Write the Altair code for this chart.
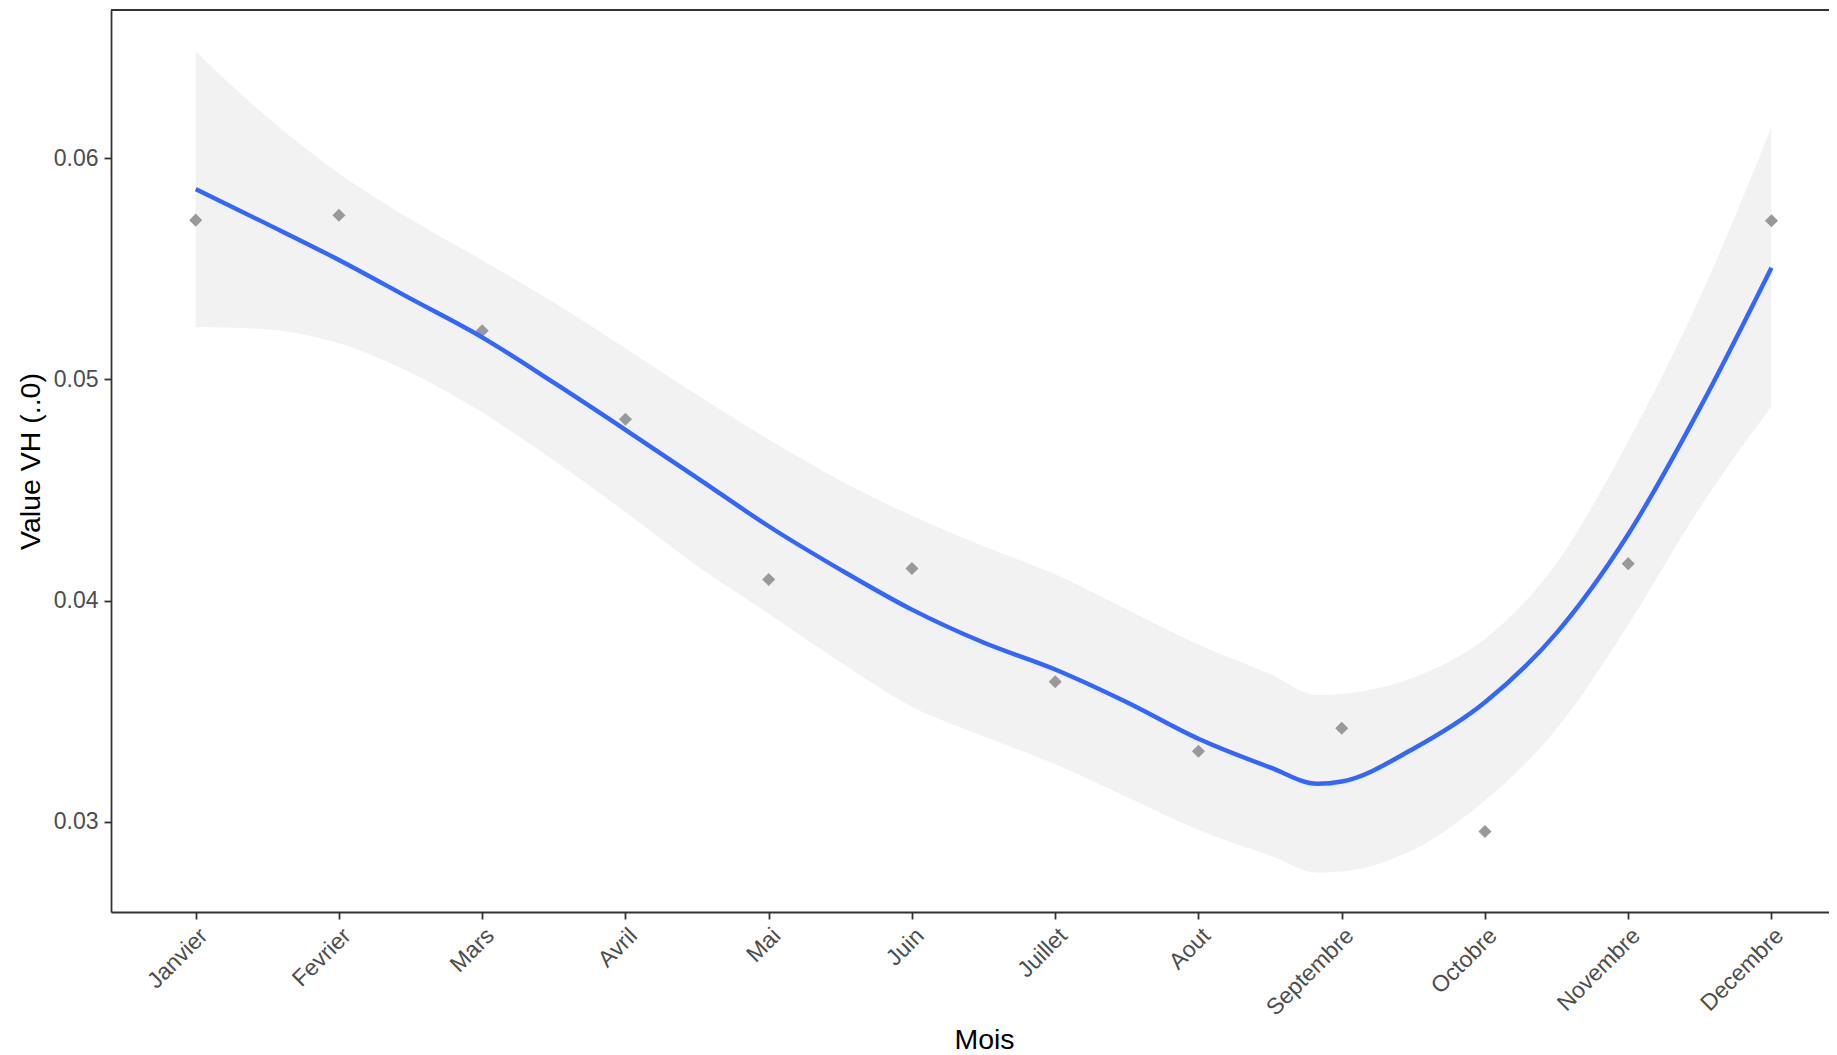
import json
import altair as alt
import pandas as pd

# ---- data ----
months = ["Janvier", "Fevrier", "Mars", "Avril", "Mai", "Juin", "Juillet",
          "Aout", "Septembre", "Octobre", "Novembre", "Decembre"]
month_index = [1, 2, 3, 4, 5, 6, 7, 8, 9, 10, 11, 12]
vh_values = [0.05720, 0.05742, 0.05220, 0.04820, 0.04095, 0.04145, 0.03633,
             0.03319, 0.03423, 0.02956, 0.04167, 0.05717]

# loess smooth (at these month positions)
smooth_pos = [1, 1.5, 2, 2.5, 3, 3.5, 4, 4.5, 5, 5.5, 6, 6.5, 7, 7.5, 8, 8.5,
              8.83, 9, 9.5, 10, 10.5, 11, 11.5, 12]
smooth_fit = [0.05860, 0.05702, 0.05540, 0.05365, 0.05190, 0.04985, 0.04772,
              0.04555, 0.04336, 0.04140, 0.03959, 0.03810, 0.03688, 0.03540,
              0.03375, 0.03246, 0.03172, 0.03182, 0.03330, 0.03540, 0.03854,
              0.04300, 0.04870, 0.05505]
smooth_upper = [0.06482, 0.06185, 0.05931, 0.05724, 0.05539, 0.05348, 0.05141,
                0.04930, 0.04728, 0.04543, 0.04384, 0.04246, 0.04119, 0.03960,
                0.03801, 0.03668, 0.03573, 0.03578, 0.03652, 0.03827, 0.04170,
                0.04720, 0.05370, 0.06140]
smooth_lower = [0.05237, 0.05226, 0.05163, 0.05030, 0.04850, 0.04633, 0.04400,
                0.04156, 0.03940, 0.03721, 0.03520, 0.03387, 0.03260, 0.03112,
                0.02963, 0.02847, 0.02770, 0.02775, 0.02873, 0.03096, 0.03420,
                0.03890, 0.04420, 0.04877]

y_ticks = [0.03, 0.04, 0.05, 0.06]

points_df = pd.DataFrame({"m": month_index, "v": vh_values})
smooth_df = pd.DataFrame({"m": smooth_pos, "fit": smooth_fit,
                          "lo": smooth_lower, "hi": smooth_upper})

# ---- layout ----
W, H = 1718, 902
FONT = "Liberation Sans"
AX = "#333333"
TXT = "#4D4D4D"

label_expr = json.dumps(months) + "[datum.value - 1]"

x_scale = alt.Scale(domain=[0.4087, 12.4016], nice=False, zero=False)
y_scale = alt.Scale(domain=[0.02592, 0.06670], nice=False, zero=False)

x_axis = alt.Axis(values=month_index, labelExpr=label_expr, grid=False,
                  labelAngle=-45, labelAlign="right", labelBaseline="top",
                  labelFontSize=23, labelColor=TXT, labelFont=FONT,
                  labelPadding=5, labelOffset=0,
                  tickSize=7, tickColor=AX, tickWidth=1.8,
                  domainColor=AX, domainWidth=1.8,
                  title="Mois", titleFontSize=28.5, titleFont=FONT,
                  titleColor="#000000", titleFontWeight="normal",
                  titleX=873, titleY=136, titleAlign="center",
                  titleBaseline="alphabetic")
y_axis = alt.Axis(values=y_ticks, format=".2f", grid=False,
                  labelFontSize=23, labelColor=TXT, labelFont=FONT,
                  labelPadding=6,
                  tickSize=7, tickColor=AX, tickWidth=1.8,
                  domainColor=AX, domainWidth=1.8,
                  title="Value VH (..0)", titleFontSize=28.5, titleFont=FONT,
                  titleColor="#000000", titleFontWeight="normal",
                  titleX=-81, titleY=H / 2, titleAngle=-90,
                  titleAlign="center", titleBaseline="middle")

ribbon = alt.Chart(smooth_df).mark_area(color="#F2F2F2", opacity=1,
                                        interpolate="monotone").encode(
    x=alt.X("m:Q", scale=x_scale, axis=x_axis),
    y=alt.Y("lo:Q", scale=y_scale, axis=y_axis),
    y2="hi:Q",
)

points = alt.Chart(points_df).mark_point(shape="diamond", filled=True,
                                         color="#999999", size=170,
                                         opacity=1).encode(
    x=alt.X("m:Q", scale=x_scale, axis=x_axis),
    y=alt.Y("v:Q", scale=y_scale, axis=y_axis),
)

line = alt.Chart(smooth_df).mark_line(color="#3366FF", strokeWidth=4.4,
                                      interpolate="monotone").encode(
    x=alt.X("m:Q", scale=x_scale, axis=x_axis),
    y=alt.Y("fit:Q", scale=y_scale, axis=y_axis),
)

top_border = alt.Chart(points_df).mark_rule(color=AX, strokeWidth=1.8).encode(
    x=alt.value(0), x2=alt.value(W), y=alt.value(0)
)

chart = alt.layer(ribbon, points, line, top_border).properties(
    width=W, height=H,
    autosize=alt.AutoSizeParams(type="none"),
    padding={"left": 103, "top": 2, "right": 0, "bottom": 142},
    background="white",
).configure_view(stroke=None)

chart.save("out.html", embed_options={"renderer": "svg", "actions": False})
